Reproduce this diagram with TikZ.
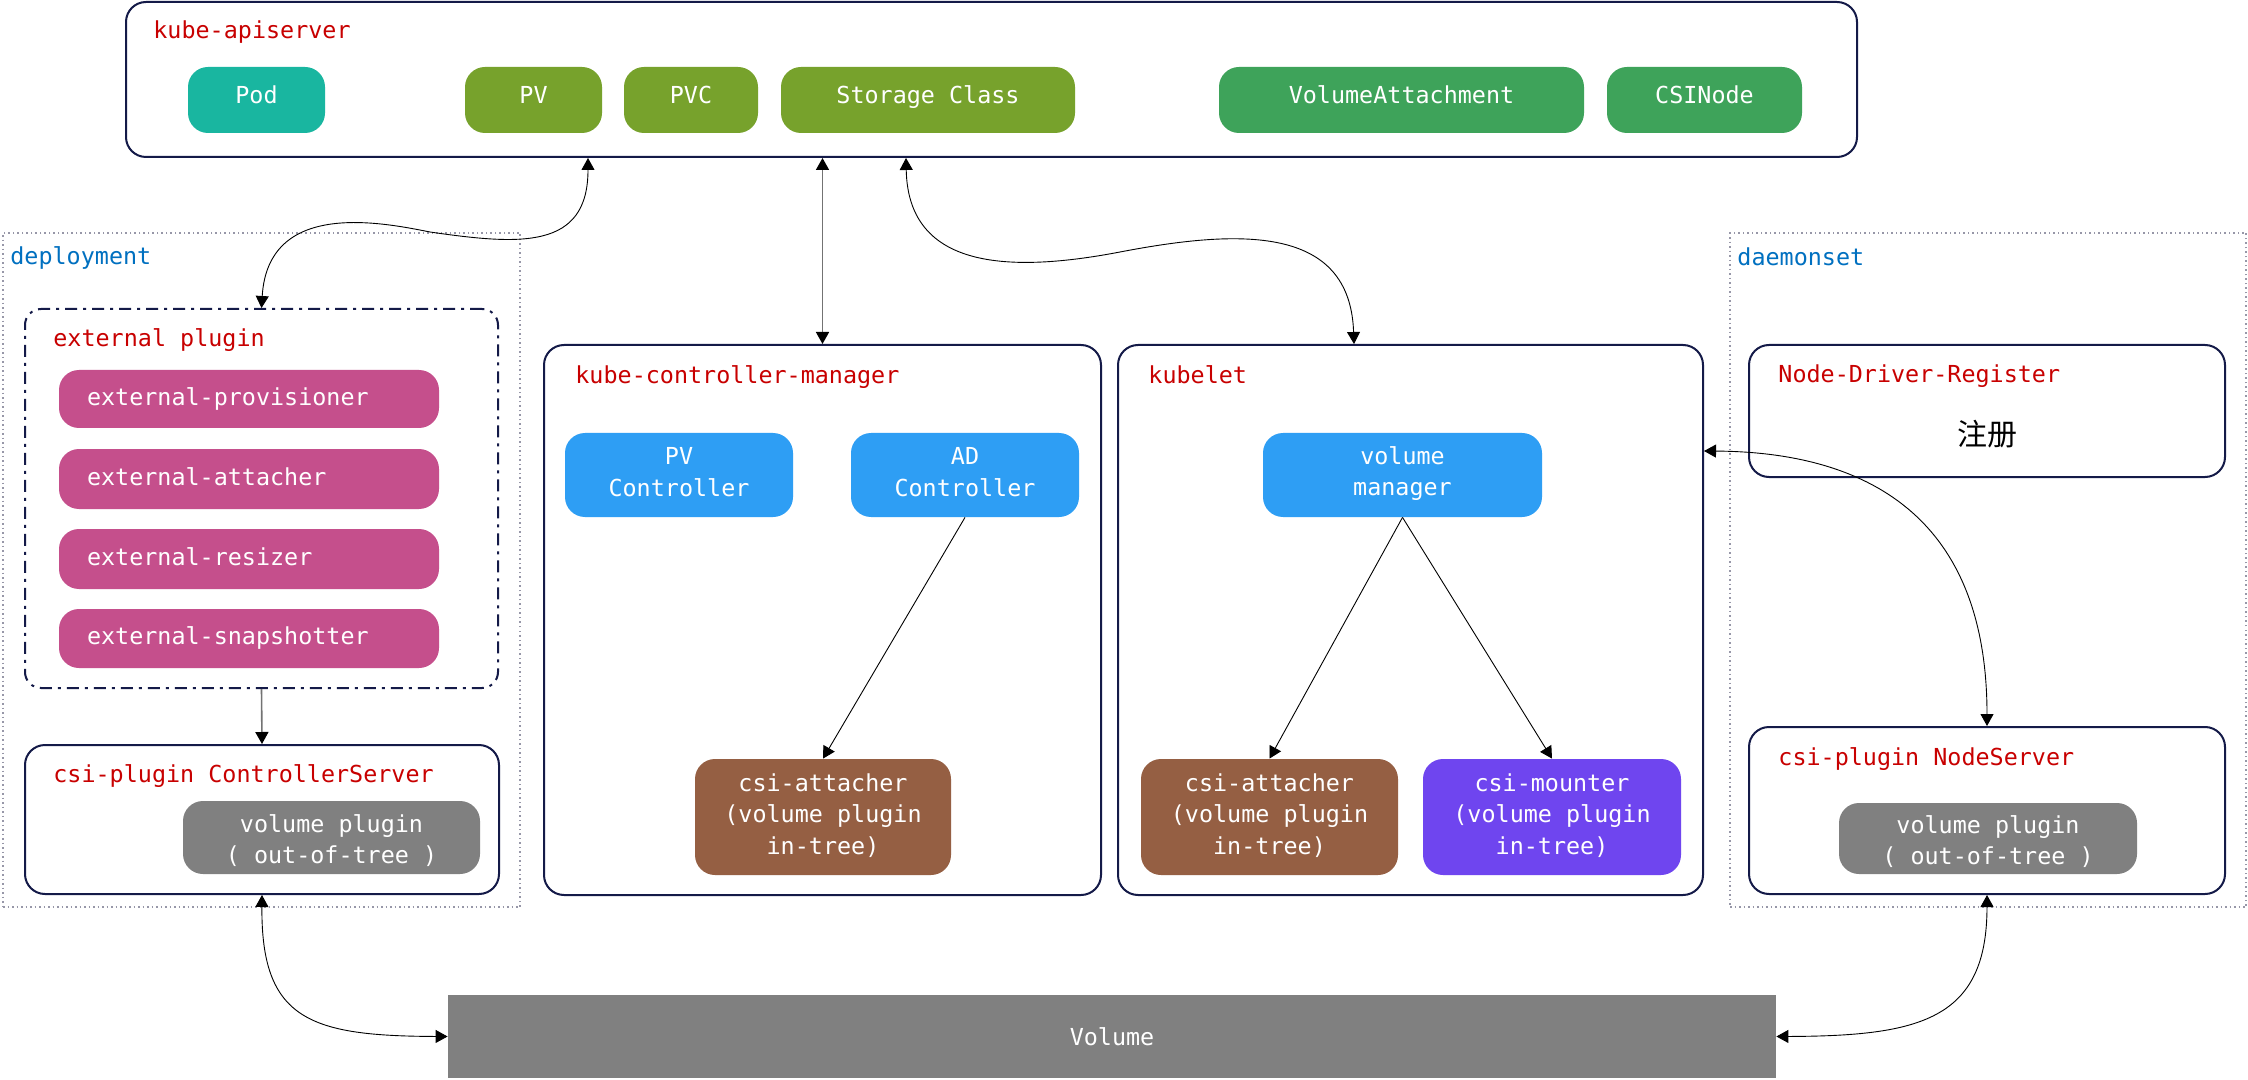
\documentclass[tikz,border=0pt]{standalone}
\usepackage{fontspec}
\setmainfont{DejaVu Sans Mono}
\newfontfamily\cjk{Noto Sans CJK SC}
\usetikzlibrary{arrows.meta,calc}
\definecolor{navy}{HTML}{141A48}
\definecolor{lblred}{HTML}{C80000}
\definecolor{lblblue}{HTML}{0070C0}
\definecolor{dotgray}{HTML}{9797A8}
\definecolor{teal}{HTML}{19B6A0}
\definecolor{olive}{HTML}{77A22C}
\definecolor{kgreen}{HTML}{3EA35A}
\definecolor{pink}{HTML}{C54F8C}
\definecolor{kblue}{HTML}{2E9EF4}
\definecolor{brown}{HTML}{955F43}
\definecolor{purple}{HTML}{6F45EF}
\definecolor{vgray}{HTML}{808080}
\newcommand\boxat[7]{\node[#6,minimum width={(#4-#2)*0.5pt},minimum height={(#5-#3)*0.5pt}] (#1) at ({(#2+#4)/2},{(#3+#5)/2}) {#7};}
\newcommand\mboxat[8]{\node[#6,minimum width={(#4-#2)*0.5pt},minimum height={(#5-#3)*0.5pt}] (#1) at ({(#2+#4)/2},{(#3+#5)/2}) {};
  \node[mtext] (#1-t) at ([yshift=#7]#1.center) {#8};}
\begin{document}
\begin{tikzpicture}[x=0.5pt,y=-0.5pt,font=\fontsize{11.7}{15.7}\selectfont,
  cont/.style={draw=navy,line width=1pt,rounded corners=10pt,inner sep=0pt},
  grp/.style={draw=dotgray,line width=0.75pt,dash pattern=on 0.75pt off 1.5pt,inner sep=0pt},
  extgrp/.style={draw=navy,line width=1pt,rounded corners=8pt,dash pattern=on 6pt off 3pt on 1.5pt off 3pt,inner sep=0pt},
  pill/.style={rounded corners=10pt,text=white,inner sep=0pt,text height=8.6pt,text depth=5.4pt},
  mpill/.style={rounded corners=10pt,inner sep=0pt},
  mtext/.style={text=white,inner sep=0pt,align=center},
  lpill/.style={rounded corners=10pt,text=white,inner ysep=0pt,inner xsep=14pt,text height=8.6pt,text depth=2.4pt,text width=162pt,align=left},
  lbl/.style={text=lblred,anchor=base west,inner sep=0pt},
  glbl/.style={text=lblblue,anchor=base west,inner sep=0pt},
  tip/.tip={Triangle[length=6pt,width=6.5pt,color=black]},
  conn/.style={line width=0.45pt,-tip},
  conn2/.style={line width=0.45pt,tip-tip},
  sconn/.style={draw=black!55,line width=0.8pt,-tip},
  sconn2/.style={draw=black!55,line width=0.8pt,tip-tip}]
\useasboundingbox[fill=white] (0,0) rectangle (2248,1080);

% groups
\boxat{dep}{3}{233}{520}{907}{grp}{}
\boxat{ds}{1730}{233}{2246}{907}{grp}{}
\node[glbl] (deplbl) at (10,264.5) {deployment};
\node[glbl] (dslbl) at (1737,265.5) {daemonset};

% api server
\boxat{api}{126}{2}{1857}{157}{cont}{}
\node[lbl] (apilbl) at (153,39) {kube-apiserver};
\boxat{pod}{188}{67}{325}{133}{pill,fill=teal}{Pod}
\boxat{pv}{465}{67}{602}{133}{pill,fill=olive}{PV}
\boxat{pvc}{624}{67}{758}{133}{pill,fill=olive}{PVC}
\boxat{sc}{781}{67}{1075}{133}{pill,fill=olive}{Storage Class}
\boxat{va}{1219}{67}{1584}{133}{pill,fill=kgreen}{VolumeAttachment}
\boxat{csin}{1607}{67}{1802}{133}{pill,fill=kgreen}{CSINode}

% external plugin
\boxat{extp}{25}{309}{498}{688}{extgrp}{}
\node[lbl] (extlbl) at (53,347) {external plugin};
\boxat{p1}{59}{370}{439}{428}{lpill,fill=pink}{external-provisioner}
\boxat{p2}{59}{449}{439}{509}{lpill,fill=pink}{external-attacher}
\boxat{p3}{59}{529}{439}{589}{lpill,fill=pink}{external-resizer}
\boxat{p4}{59}{609}{439}{668}{lpill,fill=pink}{external-snapshotter}

% controller server
\boxat{cs}{25}{745}{499}{894}{cont}{}
\node[lbl] (cslbl) at (53,782) {csi-plugin ControllerServer};
\mboxat{vp1}{183}{801}{480}{874}{mpill,fill=vgray}{-1.5pt}{volume plugin\\( out-of-tree )}

% kube-controller-manager
\boxat{kcm}{544}{345}{1101}{895}{cont}{}
\node[lbl] (kcmlbl) at (575,384) {kube-controller-manager};
\mboxat{pvctl}{565}{433}{793}{517}{mpill,fill=kblue}{1.5pt}{PV\\Controller}
\mboxat{adc}{851}{433}{1079}{517}{mpill,fill=kblue}{1.5pt}{AD\\Controller}
\mboxat{att1}{695}{759}{951}{875}{mpill,fill=brown}{0.75pt}{csi-attacher\\(volume plugin\\in-tree)}

% kubelet
\boxat{kub}{1118}{345}{1703}{895}{cont}{}
\node[lbl] (kublbl) at (1148,384) {kubelet};
\mboxat{vm}{1263}{433}{1542}{517}{mpill,fill=kblue}{0.75pt}{volume\\manager}
\mboxat{att2}{1141}{759}{1398}{875}{mpill,fill=brown}{0.75pt}{csi-attacher\\(volume plugin\\in-tree)}
\mboxat{mnt}{1423}{759}{1681}{875}{mpill,fill=purple}{0.75pt}{csi-mounter\\(volume plugin\\in-tree)}

% daemonset content
\boxat{ndr}{1749}{345}{2225}{477}{cont}{}
\node[lbl] (ndrlbl) at (1778,383) {Node-Driver-Register};
\node[inner sep=0pt,font=\cjk\fontsize{15}{18}\selectfont] (reg) at (1987,434) {注册};
\boxat{ns}{1749}{727}{2225}{894}{cont}{}
\node[lbl] (nslbl) at (1778,765) {csi-plugin NodeServer};
\mboxat{vp2}{1839}{803}{2137}{874}{mpill,fill=vgray}{-1.5pt}{volume plugin\\( out-of-tree )}

% volume
\boxat{vol}{448}{995}{1776}{1078}{fill=vgray,text=white,inner sep=0pt}{Volume}

% connectors
\draw[conn2] ($(api.south west)+(463,0)$) .. controls (588,250) and (520,245) .. (430,232)
   .. controls (380,222) and (268,200) .. (extp.north);
\draw[sconn2] (api.south -| kcm.north) -- (kcm.north);
\draw[conn2] ($(api.south west)+(781,0)$) .. controls (908,265) and (1000,275) .. (1120,252)
   .. controls (1240,229) and (1350,225) .. ($(kub.north west)+(237,0)$);
\draw[conn] (adc.south) -- (att1.north);
\draw[conn] (vm.south) -- (att2.north);
\draw[conn] (vm.south) -- (mnt.north);
\draw[sconn] (extp.south) -- (cs.north);
\draw[conn2] (ns.north) .. controls (1987,515) and (1865,452) .. ($(kub.north east)+(0,107)$);
\draw[conn2] (cs.south) .. controls (261,1020) and (310,1036) .. (vol.west);
\draw[conn2] (ns.south) .. controls (1987,1020) and (1920,1036) .. (vol.east);
\end{tikzpicture}
\end{document}
